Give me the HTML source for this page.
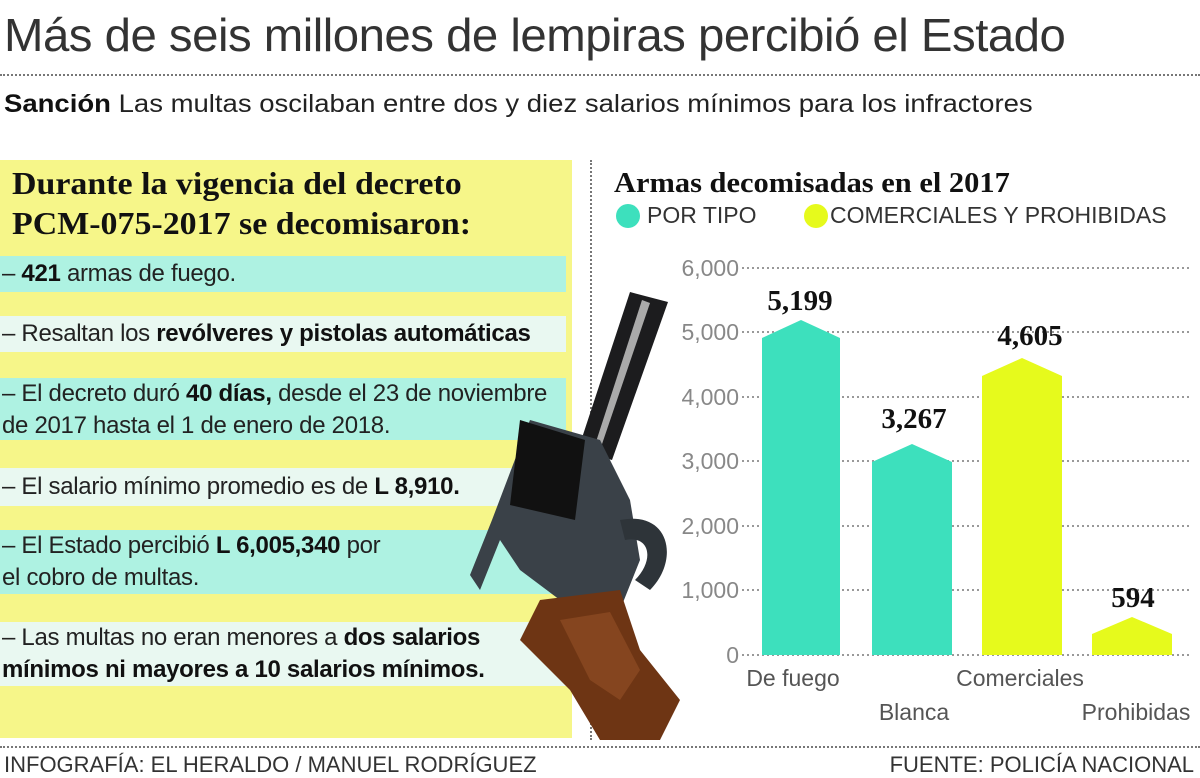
<!DOCTYPE html>
<html><head><meta charset="utf-8"><style>
body{margin:0;width:1200px;height:778px;background:#fff;position:relative;overflow:hidden;font-family:"Liberation Sans Narrow","Liberation Sans",sans-serif;color:#222}
.a{position:absolute;white-space:nowrap}
.dotsH{position:absolute;height:0;border-top:2px dotted #777}
.row{position:absolute;left:0;width:566px;font-size:24px;line-height:32px;padding-left:2px;box-sizing:border-box;letter-spacing:-0.3px}
.c{background:#aef2e2}.p{background:#e9f8f1}
b{font-weight:bold;color:#111}
</style></head><body>
<div class="a" style="left:4px;top:8px;font-size:46px;letter-spacing:-0.5px;color:#333;font-family:'Liberation Sans',sans-serif;font-weight:300;transform:scaleX(1.03);transform-origin:left">Más de seis millones de lempiras percibió el Estado</div>
<div class="dotsH" style="left:0;top:74px;width:1200px"></div>
<div class="a" style="left:4px;top:90px;font-size:25px;transform:scaleX(1.1);transform-origin:left"><b>Sanción</b> Las multas oscilaban entre dos y diez salarios mínimos para los infractores</div>

<div class="a" style="left:0;top:160px;width:572px;height:578px;background:#f6f689"></div>
<div class="a" style="left:12px;top:163px;font-family:'Liberation Serif',serif;font-weight:bold;font-size:32px;line-height:40px;color:#111;letter-spacing:0px;transform:scaleX(1.06);transform-origin:left">Durante la vigencia del decreto<br>PCM-075-2017 se decomisaron:</div>
<div class="row c" style="top:256px;height:36px;line-height:36px">– <b>421</b> armas de fuego.</div>
<div class="row p" style="top:316px;height:36px;line-height:36px">– Resaltan los <b>revólveres y pistolas automáticas</b></div>
<div class="row c" style="top:378px;height:62px;padding-top:0px">– El decreto duró <b>40 días,</b> desde el 23 de noviembre<br>de 2017 hasta el 1 de enero de 2018.</div>
<div class="row p" style="top:468px;height:38px;line-height:38px">– El salario mínimo promedio es de <b>L 8,910.</b></div>
<div class="row c" style="top:530px;height:64px">– El Estado percibió <b>L 6,005,340</b> por<br>el cobro de multas.</div>
<div class="row p" style="top:622px;height:64px">– Las multas no eran menores a <b>dos salarios<br>mínimos ni mayores a 10 salarios mínimos.</b></div>

<div class="a" style="left:590px;top:160px;height:580px;border-left:2px dotted #777"></div>
<div class="dotsH" style="left:0;top:746px;width:1200px"></div>
<div class="a" style="left:4px;top:752px;font-size:22px;color:#333">INFOGRAFÍA: EL HERALDO / MANUEL RODRÍGUEZ</div>
<div class="a" style="right:6px;top:752px;font-size:22px;color:#333">FUENTE: POLICÍA NACIONAL</div>

<div class="a" style="left:614px;top:167px;font-family:'Liberation Serif',serif;font-weight:bold;font-size:29px;color:#111;letter-spacing:0px;transform:scaleX(1.05);transform-origin:left">Armas decomisadas en el 2017</div>
<div class="a" style="left:616px;top:204px;width:24px;height:24px;border-radius:50%;background:#3de0bd"></div>
<div class="a" style="left:647px;top:202px;font-size:23px;color:#333">POR TIPO</div>
<div class="a" style="left:804px;top:204px;width:24px;height:24px;border-radius:50%;background:#e6fa1c"></div>
<div class="a" style="left:830px;top:202px;font-size:23px;color:#333">COMERCIALES Y PROHIBIDAS</div>

<svg class="a" style="left:0;top:0" width="1200" height="778">
<g stroke="#999" stroke-width="2" stroke-dasharray="2,3">
<line x1="742" y1="268" x2="1190" y2="268"/><line x1="742" y1="332" x2="1190" y2="332"/>
<line x1="742" y1="397" x2="1190" y2="397"/><line x1="742" y1="461" x2="1190" y2="461"/>
<line x1="742" y1="526" x2="1190" y2="526"/><line x1="742" y1="590" x2="1190" y2="590"/>
<line x1="742" y1="655" x2="1190" y2="655"/></g>
<g font-family="Liberation Sans Narrow, Liberation Sans, sans-serif" font-size="23" fill="#888" text-anchor="end">
<text x="739" y="276">6,000</text><text x="739" y="340">5,000</text><text x="739" y="405">4,000</text>
<text x="739" y="469">3,000</text><text x="739" y="534">2,000</text><text x="739" y="598">1,000</text><text x="739" y="663">0</text></g>
<polygon points="762,655 762,338 801,320 840,338 840,655" fill="#3de0bd"/>
<polygon points="872,655 872,462 912,444 952,462 952,655" fill="#3de0bd"/>
<polygon points="982,655 982,376 1022,358 1062,376 1062,655" fill="#e6fa1c"/>
<polygon points="1092,655 1092,634 1132,617 1172,634 1172,655" fill="#e6fa1c"/>
<g font-family="Liberation Serif, serif" font-weight="bold" font-size="29" fill="#111" text-anchor="middle">
<text x="800" y="310">5,199</text><text x="914" y="428">3,267</text><text x="1030" y="345">4,605</text><text x="1133" y="607">594</text></g>
<g font-family="Liberation Sans Narrow, Liberation Sans, sans-serif" font-size="23" fill="#555" text-anchor="middle">
<text x="793" y="686">De fuego</text><text x="914" y="720">Blanca</text><text x="1020" y="686">Comerciales</text><text x="1136" y="720">Prohibidas</text></g>
<g>
<path d="M630,292 L668,302 L612,460 L578,450 Z" fill="#1c1c1e"/>
<path d="M642,300 L650,303 L600,450 L594,448 Z" fill="#aaa"/>
<path d="M530,420 L600,440 L630,500 L640,560 L620,610 L560,600 L520,570 L500,540 L480,590 L470,575 L492,520 Z" fill="#3a4148"/>
<path d="M520,420 L585,440 L575,520 L510,505 Z" fill="#111"/>
<path d="M620,520 C670,510 680,560 650,590 L635,580 C655,560 650,535 625,540 Z" fill="#2e3439"/>
<path d="M540,600 L620,590 L640,650 L680,700 L660,740 L600,740 L570,690 L520,640 Z" fill="#6e3514"/>
<path d="M560,620 L610,612 L640,670 L620,700 L590,680 Z" fill="#8b4a22" opacity=".8"/>
</g>
</svg>
</body></html>
